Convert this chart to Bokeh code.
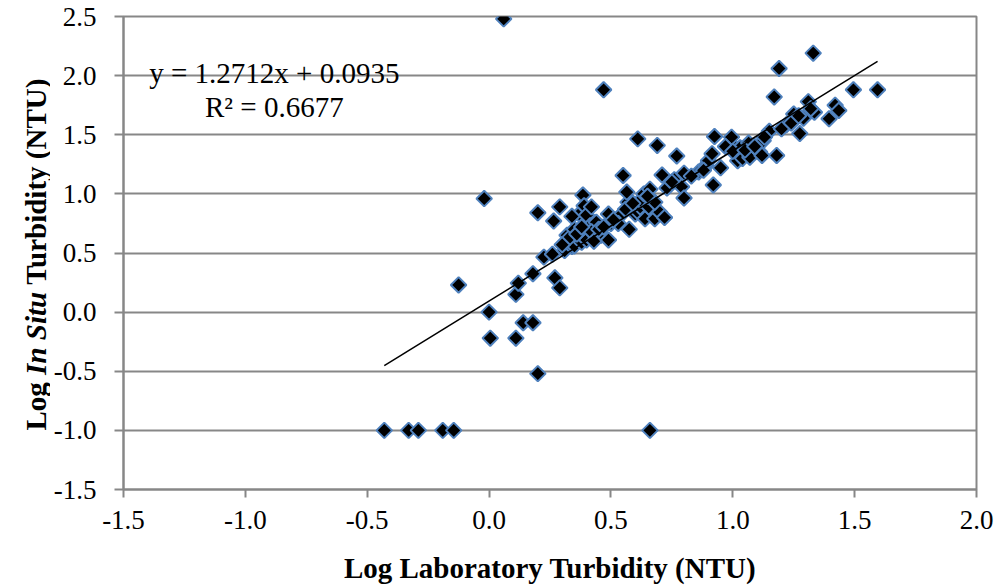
import numpy as np
from bokeh.plotting import figure
from bokeh.layouts import row
from bokeh.models import Label, Range1d, FixedTicker, NumeralTickFormatter
from bokeh.embed import file_html
from bokeh.resources import INLINE

# ---- data ----
lab_x = [
    -0.43, -0.33, -0.29, -0.19, -0.145, 0.66, -0.125, -0.02, 0.06, 0.47,
    0.0, 0.005, 0.11, 0.14, 0.18, 0.20, 0.11, 0.12, 0.18, 0.27,
    0.29, 0.225, 0.26, 0.31, 0.34, 0.32, 0.35, 0.33, 0.35, 0.38,
    0.40, 0.44, 0.46, 0.49, 0.20, 0.265, 0.29, 0.37, 0.385, 0.39,
    0.40, 0.415, 0.44, 0.49, 0.50, 0.54, 0.53, 0.575, 0.60, 0.61,
    0.64, 0.68, 0.70, 0.72, 0.62, 0.655, 0.68, 0.57, 0.565, 0.62,
    0.635, 0.66, 0.55, 0.61, 0.69, 0.77, 0.71, 0.76, 0.80, 0.79,
    0.80, 0.86, 0.89, 0.90, 0.915, 0.925, 0.92, 0.95, 0.99, 0.995,
    1.03, 1.02, 1.04, 1.065, 1.07, 1.11, 1.12, 1.125, 1.15, 1.18,
    1.17, 1.19, 1.22, 1.25, 1.275, 1.29, 1.31, 1.335, 1.33, 1.395,
    1.42, 1.435, 1.495, 1.594, 0.30, 0.36, 0.42, 0.45, 0.47, 0.43,
    0.38, 0.51, 0.56, 0.59, 0.65, 0.73, 0.75, 0.83, 0.88, 0.97,
    1.00, 1.05, 1.09, 1.13, 1.20, 1.24, 1.27, 1.32, 0.42, 0.34,
]
insitu_y = [
    -1.0, -1.0, -1.0, -1.0, -1.0, -1.0, 0.23, 0.96, 2.48, 1.88,
    0.0, -0.22, -0.22, -0.09, -0.09, -0.52, 0.15, 0.245, 0.325, 0.29,
    0.205, 0.465, 0.49, 0.52, 0.555, 0.65, 0.56, 0.63, 0.70, 0.59,
    0.61, 0.63, 0.65, 0.61, 0.84, 0.77, 0.89, 0.83, 0.99, 0.90,
    0.82, 0.73, 0.76, 0.83, 0.75, 0.82, 0.75, 0.70, 0.83, 0.85,
    0.79, 0.79, 0.845, 0.80, 0.89, 0.89, 0.93, 0.93, 1.015, 0.945,
    1.00, 1.04, 1.155, 1.465, 1.41, 1.32, 1.16, 1.12, 1.175, 1.06,
    0.965, 1.185, 1.24, 1.28, 1.34, 1.485, 1.075, 1.22, 1.43, 1.48,
    1.39, 1.28, 1.30, 1.43, 1.31, 1.355, 1.325, 1.45, 1.53, 1.325,
    1.82, 2.06, 1.585, 1.675, 1.51, 1.64, 1.78, 1.69, 2.19, 1.635,
    1.75, 1.705, 1.88, 1.88, 0.57, 0.66, 0.68, 0.70, 0.72, 0.60,
    0.72, 0.78, 0.87, 0.92, 0.98, 1.05, 1.10, 1.15, 1.20, 1.40,
    1.36, 1.37, 1.40, 1.48, 1.55, 1.60, 1.66, 1.72, 0.89, 0.81,
]
slope = 1.2712
intercept = 0.0935
r_squared = 0.6677
x_ticks = [-1.5, -1.0, -0.5, 0.0, 0.5, 1.0, 1.5, 2.0]
y_ticks = [-1.5, -1.0, -0.5, 0.0, 0.5, 1.0, 1.5, 2.0, 2.5]
x_title = "Log Laboratory Turbidity (NTU)"
y_title_parts = ["Log", "In Situ", "Turbidity (NTU)"]

# ---- layout constants ----
W, H = 1002, 588
TW = 50                      # width of the strip holding the y title
FL, FT, FW, FH = 122, 16, 854, 473
X0, X1 = x_ticks[0], x_ticks[-1]
Y0, Y1 = y_ticks[0], y_ticks[-1]
GRID = "#878787"
SERIF = "Liberation Serif"


def px_x(px):
    return X0 + (px - FL) * (X1 - X0) / FW


def px_y(py):
    return Y1 - (py - FT) * (Y1 - Y0) / FH


p = figure(width=W - TW, height=H, x_range=Range1d(X0, X1), y_range=Range1d(Y0, Y1),
           output_backend="svg", toolbar_location=None,
           min_border_left=FL - TW, min_border_right=W - FL - FW,
           min_border_top=FT, min_border_bottom=H - FT - FH)
p.background_fill_color = "white"
p.border_fill_color = "white"
p.outline_line_color = GRID
p.outline_line_width = 2

p.xgrid.visible = False
p.ygrid.grid_line_color = GRID
p.ygrid.grid_line_width = 2
p.ygrid.ticker = FixedTicker(ticks=y_ticks)

for ax in (p.xaxis[0], p.yaxis[0]):
    ax.axis_line_color = GRID
    ax.axis_line_width = 2
    ax.major_tick_line_color = GRID
    ax.major_tick_line_width = 2
    ax.major_tick_in = 0
    ax.minor_tick_in = 0
    ax.minor_tick_out = 0
    ax.major_label_text_font = SERIF
    ax.major_label_text_font_size = "27px"
    ax.major_label_text_color = "black"
    ax.formatter = NumeralTickFormatter(format="0.0")

p.xaxis.ticker = FixedTicker(ticks=x_ticks)
p.yaxis.ticker = FixedTicker(ticks=y_ticks)
p.xaxis.major_tick_out = 8
p.yaxis.major_tick_out = 9
p.xaxis.major_label_standoff = 13
p.yaxis.major_label_standoff = 18

p.xaxis.axis_label = x_title
p.xaxis.axis_label_text_font = SERIF
p.xaxis.axis_label_text_font_size = "29px"
p.xaxis.axis_label_text_font_style = "bold"
p.xaxis.axis_label_text_color = "black"
p.xaxis.axis_label_standoff = 20

# scatter
p.scatter(lab_x, insitu_y, marker="square", angle=np.pi / 4, size=11,
          fill_color="black", line_color="#4F81BD", line_width=2)

# linear trendline over the data range
tx = np.array([min(lab_x), max(lab_x)])
p.line(tx, slope * tx + intercept, line_color="black", line_width=1.5)

# trendline equation
p.add_layout(Label(x=px_x(273), y=px_y(72), text=f"y = {slope:.4f}x + {intercept:.4f}",
                   text_align="center", text_baseline="alphabetic",
                   text_font=SERIF, text_font_size="29px", text_color="black"))
p.add_layout(Label(x=px_x(273), y=px_y(106), text=f"R\u00b2 = {r_squared:.4f}",
                   text_align="center", text_baseline="alphabetic",
                   text_font=SERIF, text_font_size="29px", text_color="black"))

# ---- strip on the left carrying the y-axis title (with italic "In Situ") ----
t = figure(width=TW, height=H, x_range=Range1d(0, 1), y_range=Range1d(0, 1),
           output_backend="svg", toolbar_location=None,
           x_axis_location=None, y_axis_location=None,
           min_border=0)
t.title = None
t.xgrid.visible = False
t.ygrid.visible = False
t.outline_line_color = None
t.background_fill_color = "white"
t.border_fill_color = "white"

fs = 29
w_log = 1.917 * fs
w_insitu = 2.863 * fs
w_space = 0.25 * fs
starts = [430, 430 - w_log, 430 - w_log - w_insitu - w_space]
styles = ["bold", "bold italic", "bold"]
# the strip's frame is aligned with the main frame (bottom edge at FT + FH)
for txt, sy, st in zip(y_title_parts, starts, styles):
    t.add_layout(Label(x=35, y=(FT + FH) - sy, x_units="screen", y_units="screen",
                       text=txt, angle=np.pi / 2,
                       text_align="left", text_baseline="alphabetic",
                       text_font=SERIF, text_font_size=f"{fs}px",
                       text_font_style=st, text_color="black"))

layout = row(t, p)
open("out.html", "w").write(file_html(layout, INLINE))
